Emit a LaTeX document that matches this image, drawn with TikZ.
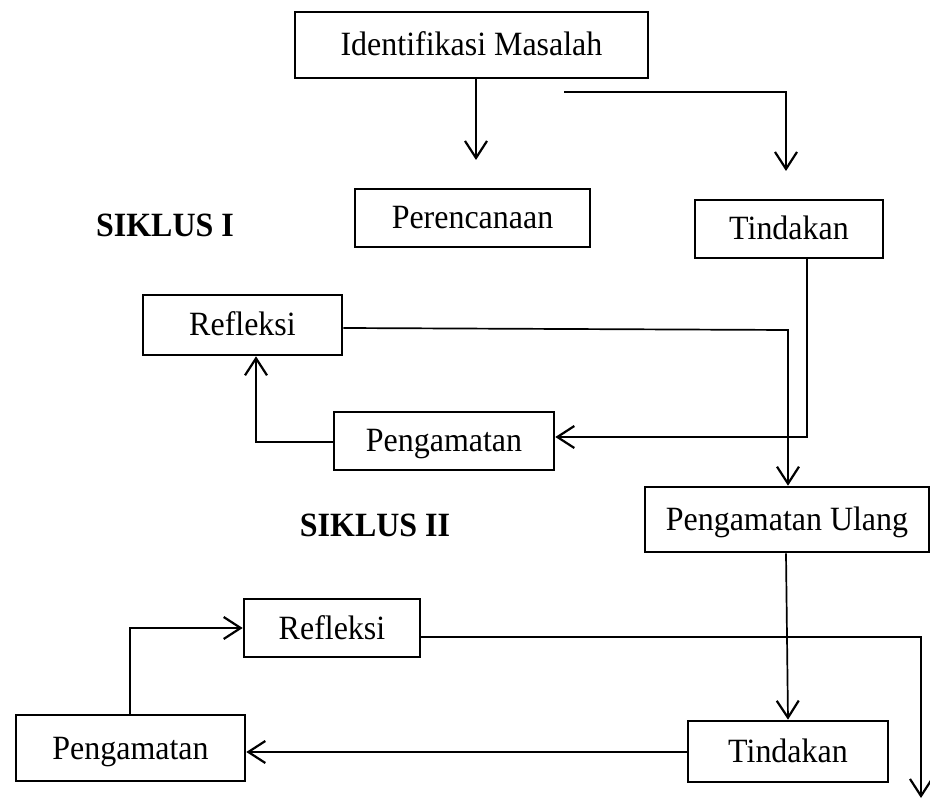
\documentclass[tikz,border=0pt]{standalone}
\usepackage{fontspec}
\setmainfont{Liberation Serif}[FakeStretch=0.94]
\usetikzlibrary{arrows.meta}

\tikzset{
  box/.style={draw, line width=2.6pt, inner sep=0pt, text height=22pt, text depth=0pt},
  arr/.style={line width=2.2pt, -{Straight Barb[length=17pt,width=22pt,line width=2.2pt]}},
  thinarr/.style={arr, line width=1.7pt},
  lbl/.style={font=\fontsize{34}{40}\selectfont\bfseries, text height=22pt, text depth=0pt}
}

\begin{document}
\begin{tikzpicture}[x=1pt,y=-1pt,font=\fontsize{34}{40}\selectfont]
    \useasboundingbox (0,0) rectangle (930,799);

    % boxes
    \node[box, minimum width=353pt, minimum height=66pt] (ident) at (471.5,45) {Identifikasi Masalah};
    \node[box, minimum width=235pt, minimum height=58pt] (renc) at (472.5,218) {Perencanaan};
    \node[box, minimum width=188pt, minimum height=58pt] (tind1) at (789,229) {Tindakan};
    \node[box, minimum width=199pt, minimum height=60pt] (refl1) at (242.5,325) {Refleksi};
    \node[box, minimum width=220pt, minimum height=58pt] (peng1) at (444,441) {Pengamatan};
    \node[box, minimum width=284pt, minimum height=65pt] (pengu) at (787,519.5) {Pengamatan Ulang};
    \node[box, minimum width=176pt, minimum height=58pt] (refl2) at (332,628) {Refleksi};
    \node[box, minimum width=229pt, minimum height=66pt] (peng2) at (130.5,748) {Pengamatan};
    \node[box, minimum width=200pt, minimum height=61pt] (tind2) at (788,751.5) {Tindakan};

    \node[lbl] (sik1) at (165,226) {SIKLUS I};
    \node[lbl] (sik2) at (375,526) {SIKLUS II};

    % free ends
    \coordinate (a1) at (476,160);
    \coordinate (b0) at (564,92);
    \coordinate (b1) at (786,92);
    \coordinate (b2) at (786,171);
    \coordinate (c1) at (807,437);
    \coordinate (d1) at (256,442);
    \coordinate (e1) at (788,330);
    \coordinate (h1) at (130,628);
    \coordinate (i1) at (921,637);
    \coordinate (i2) at (921,798);

    % connectors
    \draw[arr] (ident.south -| a1) -- (a1);
    \draw[thinarr] (b0) -- (b1) -- (b2);
    \draw[arr] (tind1.south -| c1) -- (c1) -- (c1 -| peng1.east);
    \draw[arr] (d1 -| peng1.west) -- (d1) -- (d1 |- refl1.south);
    \draw[thinarr] (refl1.east |- 0,328) -- (e1) -- (e1 |- pengu.north);
    \draw[thinarr] (pengu.south -| 786,0) -- (tind2.north -| e1);
    \draw[arr] (tind2.west |- 0,752) -- (peng2.east |- 0,752);
    \draw[arr] (peng2.north -| h1) -- (h1) -- (h1 -| refl2.west);
    \draw[arr] (refl2.east |- i1) -- (i1) -- (i2);

\end{tikzpicture}
\end{document}
